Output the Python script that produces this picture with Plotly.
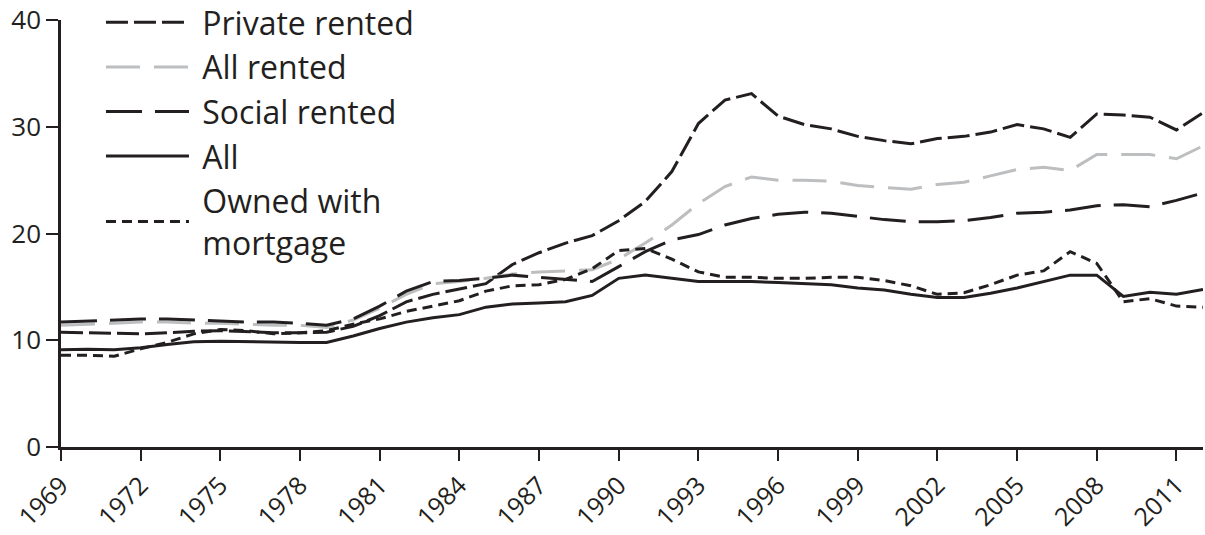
import plotly.graph_objects as go

years = list(range(1969, 2013))

private_rented = [10.75, 10.7, 10.6, 10.6, 10.7, 10.85, 10.9, 10.8, 10.7, 10.7,
                  10.75, 11.3, 12.3, 13.6, 14.3, 14.8, 15.3, 17.1, 18.2, 19.1,
                  19.8, 21.2, 23.0, 25.8, 30.3, 32.5, 33.1, 31.0, 30.2, 29.8,
                  29.1, 28.7, 28.4, 28.9, 29.1, 29.5, 30.2, 29.8, 29.0, 31.2,
                  31.1, 30.9, 29.7, 31.3]

all_rented = [11.4, 11.5, 11.6, 11.7, 11.7, 11.6, 11.6, 11.5, 11.4, 11.4,
              11.2, 11.9, 13.0, 14.3, 15.3, 15.5, 15.8, 16.2, 16.4, 16.5,
              16.6, 17.6, 19.1, 20.8, 22.8, 24.4, 25.3, 25.0, 25.0, 24.9,
              24.5, 24.3, 24.15, 24.6, 24.8, 25.4, 26.0, 26.2, 25.9, 27.4,
              27.4, 27.4, 27.0, 28.2]

social_rented = [11.7, 11.8, 11.9, 12.0, 12.0, 11.9, 11.8, 11.7, 11.7, 11.6,
                 11.4, 12.0, 13.2, 14.6, 15.5, 15.6, 15.8, 16.1, 15.9, 15.7,
                 15.5, 16.9, 18.3, 19.4, 19.9, 20.8, 21.4, 21.8, 22.0, 21.9,
                 21.6, 21.3, 21.1, 21.1, 21.2, 21.5, 21.9, 22.0, 22.2, 22.6,
                 22.7, 22.5, 23.1, 23.8]

all_households = [9.1, 9.15, 9.1, 9.3, 9.6, 9.85, 9.9, 9.85, 9.8, 9.8,
                  9.8, 10.4, 11.1, 11.7, 12.1, 12.4, 13.1, 13.4, 13.5, 13.6,
                  14.2, 15.8, 16.1, 15.8, 15.5, 15.5, 15.5, 15.4, 15.3, 15.2,
                  14.9, 14.7, 14.3, 14.0, 14.0, 14.4, 14.9, 15.5, 16.1, 16.1,
                  14.1, 14.5, 14.3, 14.75]

owned_mortgage = [8.6, 8.6, 8.5, 9.2, 9.8, 10.6, 11.0, 10.9, 10.6, 10.7,
                  10.9, 11.5, 12.0, 12.7, 13.2, 13.7, 14.6, 15.1, 15.2, 15.7,
                  16.7, 18.4, 18.6, 17.6, 16.4, 15.9, 15.9, 15.8, 15.8, 15.9,
                  15.9, 15.6, 15.1, 14.3, 14.45, 15.2, 16.1, 16.5, 18.3, 17.2,
                  13.6, 13.9, 13.2, 13.1]

x_tick_years = list(range(1969, 2012, 3))
y_ticks = [0, 10, 20, 30, 40]

DARK = "#231f20"
GREY = "#bcbec0"
FONT = "Open Sans"
NB = "\u00a0"

series = [
    ("Private rented", private_rented, DARK, "22px,6px"),
    ("All rented", all_rented, GREY, "34px,14px"),
    ("Social rented", social_rented, DARK, "36px,13px"),
    ("All", all_households, DARK, "solid"),
    ("Owned with<br>" + NB + "mortgage", owned_mortgage, DARK, "10px,6px"),
]

fig = go.Figure()
for name, vals, color, dash in series:
    fig.add_trace(go.Scatter(
        x=years, y=vals, mode="lines", name=NB + name,
        line=dict(color=color, width=3, dash=dash),
    ))

fig.update_layout(
    width=1205, height=535,
    margin=dict(l=61, r=2, t=20, b=88, autoexpand=False),
    paper_bgcolor="white", plot_bgcolor="white",
    font=dict(family=FONT, color=DARK, size=28),
    showlegend=True,
    legend=dict(
        x=0.035, y=1.0585, xanchor="left", yanchor="top",
        bgcolor="rgba(0,0,0,0)",
        font=dict(family=FONT, size=32, color=DARK),
        itemwidth=83,
        tracegroupgap=0,
        maxheight=500,
    ),
    xaxis=dict(
        range=[1969, 2012], tickmode="array", tickvals=x_tick_years,
        ticktext=[str(v) for v in x_tick_years],
        tickangle=-45, ticks="outside", ticklen=11, tickwidth=2,
        tickcolor=DARK, showline=True, linecolor=DARK, linewidth=2.5,
        showgrid=False, zeroline=False, automargin=False,
        ticklabeloverflow="allow",
        tickfont=dict(family=FONT, size=25, color=DARK),
    ),
    yaxis=dict(
        range=[0, 40], tickmode="array", tickvals=y_ticks,
        ticks="outside", ticklen=12, tickwidth=2, tickcolor=DARK,
        showline=True, linecolor=DARK, linewidth=2.5,
        showgrid=False, zeroline=False, automargin=False,
        ticklabeloverflow="allow",
        tickfont=dict(family=FONT, size=26, color=DARK),
    ),
)

fig.write_html("out.html")
